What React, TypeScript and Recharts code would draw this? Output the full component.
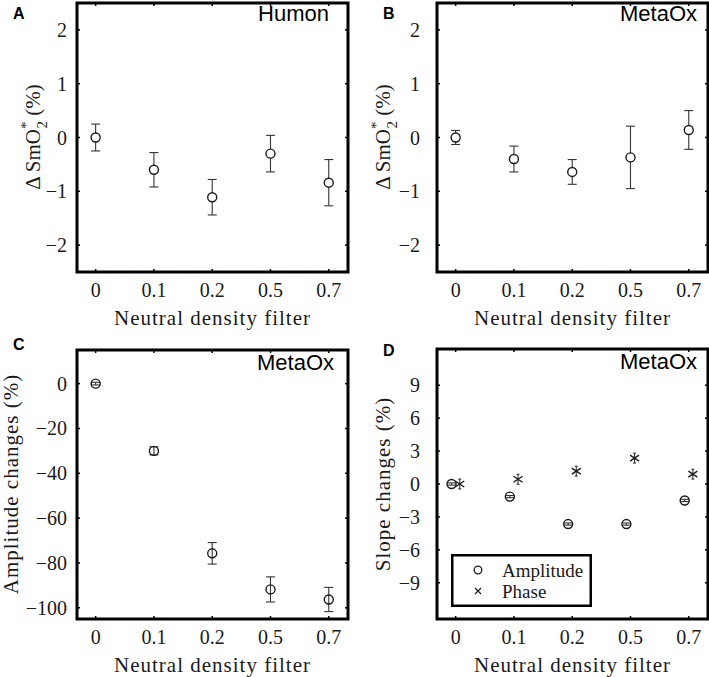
import { ScatterChart, Scatter, XAxis, YAxis, ErrorBar, ReferenceArea, Legend } from 'recharts'
import type { ReactNode } from 'react'

// ND filter levels, plotted at positions 1..5
const filters = ['0', '0.1', '0.2', '0.5', '0.7']

// A: Humon ΔSmO2*
const humonMean = [0, -0.6, -1.11, -0.3, -0.84]
const humonErr = [0.25, 0.32, 0.33, 0.34, 0.43]

// B: MetaOx ΔSmO2*
const metaoxMean = [0, -0.4, -0.64, -0.37, 0.14]
const metaoxErr = [0.13, 0.24, 0.23, 0.58, 0.36]

// C: MetaOx amplitude changes
const ampMean = [0, -30, -75.7, -91.8, -96.3]
const ampErr = [0.6, 1.8, 4.8, 5.6, 5.4]

// D: MetaOx slope changes
const slopeAmp = [0, -1.15, -3.65, -3.65, -1.5]
const slopeAmpErr = [0.1, 0.1, 0.1, 0.1, 0.1]
const slopePhase = [0, 0.43, 1.17, 2.36, 0.9]
const slopePhaseErr = [0.45, 0.45, 0.45, 0.45, 0.45]

const smallTicks = [-2, -1, 0, 1, 2]
const ampTicks = [-100, -80, -60, -40, -20, 0]
const slopeTicks = [-9, -6, -3, 0, 3, 6, 9]

const SERIF = '"Liberation Serif", "Times New Roman", serif'
const SANS = '"Liberation Sans", Arial, sans-serif'
const INK = '#1a1a1a'
const X_DOMAIN: [number, number] = [0.68, 5.33]
const YAW = 60
const XAH = 30

const toPoints = (ys: number[], errs: number[], shift = 0) =>
  ys.map((y, i) => ({ x: i + 1 + shift, y, err: errs[i] }))

const fmtY = (v: number) => (v < 0 ? `\u2212${Math.abs(v)}` : `${v}`)

const Circle = (fill: string) => (p: any) => (
  <circle cx={p.cx} cy={p.cy} r={4.5} fill={fill} stroke={INK} strokeWidth={1.4} />
)
const Cross = (p: any) => (
  <path d={`M${p.cx - 4.5},${p.cy - 3}L${p.cx + 4.5},${p.cy + 3}M${p.cx - 4.5},${p.cy + 3}L${p.cx + 4.5},${p.cy - 3}`} stroke={INK} strokeWidth={1.4} />
)

interface Series {
  name: string
  data: { x: number; y: number; err: number }[]
  shape: (p: any) => ReactNode
  cap: number
}

interface PanelProps {
  left: number
  top: number
  width: number
  height: number
  box: { l: number; t: number; r: number; b: number }
  yDomain: [number, number]
  yTicks: number[]
  yGap: number
  yLabel: ReactNode
  tag: string
  tagX: number
  tagY: number
  title: string
  titleX: number
  titleY: number
  series: Series[]
  legend?: boolean
}

function Panel(props: PanelProps) {
  const { box, width, height } = props
  const plotW = box.r - box.l
  const plotH = box.b - box.t

  const xTick = (p: any) => (
    <g>
      <line x1={p.x} x2={p.x} y1={p.y} y2={p.y - 3} stroke="#000" strokeWidth={1.5} />
      <line x1={p.x} x2={p.x} y1={p.y - plotH} y2={p.y - plotH + 3} stroke="#000" strokeWidth={1.5} />
      <text x={p.x} y={p.y + 25} textAnchor="middle" fontFamily={SERIF} fontSize={20} fill={INK}>
        {filters[p.payload.value - 1]}
      </text>
    </g>
  )
  const yTick = (p: any) => (
    <g>
      <line x1={p.x} x2={p.x + 3} y1={p.y} y2={p.y} stroke="#000" strokeWidth={1.5} />
      <line x1={p.x + plotW - 3} x2={p.x + plotW} y1={p.y} y2={p.y} stroke="#000" strokeWidth={1.5} />
      <text x={p.x - props.yGap} y={p.y + 7} textAnchor="end" fontFamily={SERIF} fontSize={20} fill={INK}>
        {fmtY(p.payload.value)}
      </text>
    </g>
  )

  return (
    <div style={{ position: 'absolute', left: props.left, top: props.top }}>
      <ScatterChart
        width={width}
        height={height}
        margin={{ top: box.t, right: width - box.r, bottom: height - box.b - XAH, left: box.l - YAW }}
      >
        <XAxis type="number" dataKey="x" domain={X_DOMAIN} ticks={[1, 2, 3, 4, 5]} allowDataOverflow
          height={XAH} axisLine={false} tickLine={false} tickSize={0} tickMargin={0} tick={xTick} />
        <YAxis type="number" dataKey="y" domain={props.yDomain} ticks={props.yTicks} allowDataOverflow
          width={YAW} axisLine={false} tickLine={false} tickSize={0} tickMargin={0} tick={yTick} />
        <ReferenceArea x1={X_DOMAIN[0]} x2={X_DOMAIN[1]} y1={props.yDomain[0]} y2={props.yDomain[1]}
          fill="none" fillOpacity={0} stroke="#000" strokeWidth={3} ifOverflow="visible" />
        {props.series.map((s) => (
          <Scatter key={s.name} name={s.name} data={s.data} shape={s.shape} isAnimationActive={false}>
            <ErrorBar dataKey="err" direction="y" width={s.cap} stroke="#333" strokeWidth={1.1} />
          </Scatter>
        ))}
        {props.legend && (
          <Legend layout="vertical" align="center" verticalAlign="middle"
            wrapperStyle={{ position: 'absolute', left: 97, top: box.t + 205, width: 141, height: 53 }}
            content={() => <SlopeLegend names={props.series.map((s) => s.name)} />} />
        )}
        <text x={box.l + plotW / 2} y={box.b + 53} textAnchor="middle" fontFamily={SERIF} fontSize={21}
          letterSpacing={1} fill={INK}>Neutral density filter</text>
        {props.yLabel}
        <text x={props.titleX} y={props.titleY} textAnchor="end"
          fontFamily={SANS} fontSize={22} fill="#000">{props.title}</text>
        <text x={props.tagX} y={props.tagY} fontFamily={SANS} fontWeight="bold" fontSize={16} fill="#000">{props.tag}</text>
      </ScatterChart>
    </div>
  )
}

function SlopeLegend({ names }: { names: string[] }) {
  return (
    <svg width={141} height={53} style={{ display: 'block' }}>
      <rect x={1.25} y={1.25} width={138.5} height={50.5} fill="#fff" stroke="#000" strokeWidth={2.5} />
      <circle cx={27} cy={16} r={3.8} fill="none" stroke={INK} strokeWidth={1.3} />
      <path d="M24,34L30,40M24,40L30,34" stroke={INK} strokeWidth={1.2} />
      <text x={51} y={23} fontFamily={SERIF} fontSize={19} fill={INK}>{names[0]}</text>
      <text x={51} y={44} fontFamily={SERIF} fontSize={19} fill={INK}>{names[1]}</text>
    </svg>
  )
}

const smo2Label = (x: number, cy: number) => (
  <text transform={`translate(${x},${cy}) rotate(-90)`} textAnchor="middle" fontFamily={SERIF} fontSize={21} fill={INK}>
    {'\u0394 SmO'}
    <tspan dy={-9} fontSize={15}>*</tspan>
    <tspan dx={-7} dy={16} fontSize={15}>2</tspan>
    <tspan dy={-7}>{' (%)'}</tspan>
  </text>
)

const plainLabel = (x: number, cy: number, label: string) => (
  <text transform={`translate(${x},${cy}) rotate(-90)`} textAnchor="middle" fontFamily={SERIF} fontSize={21}
    letterSpacing={1} fill={INK}>{label}</text>
)

export default function App() {
  return (
    <div style={{ position: 'absolute', left: 0, top: 0, width: 709, height: 677, background: '#fff' }}>
      <Panel left={0} top={0} width={354} height={330} box={{ l: 77, t: 3, r: 348, b: 272 }}
        yDomain={[-2.5, 2.5]} yTicks={smallTicks} yGap={10} yLabel={smo2Label(40, 137)}
        tag="A" tagX={13} tagY={19} title="Humon" titleX={329} titleY={21}
        series={[{ name: 'Humon', data: toPoints(humonMean, humonErr), shape: Circle('#fff'), cap: 4.5 }]} />
      <Panel left={354} top={0} width={355} height={330} box={{ l: 83, t: 3, r: 354, b: 272 }}
        yDomain={[-2.5, 2.5]} yTicks={smallTicks} yGap={17} yLabel={smo2Label(36, 137)}
        tag="B" tagX={29} tagY={19} title="MetaOx" titleX={343} titleY={21}
        series={[{ name: 'MetaOx', data: toPoints(metaoxMean, metaoxErr), shape: Circle('#fff'), cap: 4.5 }]} />
      <Panel left={0} top={330} width={354} height={347} box={{ l: 77, t: 20, r: 348, b: 289 }}
        yDomain={[-105, 15]} yTicks={ampTicks} yGap={10} yLabel={plainLabel(18, 154, 'Amplitude changes (%)')}
        tag="C" tagX={13} tagY={20} title="MetaOx" titleX={334} titleY={40}
        series={[{ name: 'Amplitude', data: toPoints(ampMean, ampErr), shape: Circle('none'), cap: 4.5 }]} />
      <Panel left={354} top={330} width={355} height={347} box={{ l: 83, t: 19, r: 354, b: 289 }}
        yDomain={[-12.3, 12.3]} yTicks={slopeTicks} yGap={17} yLabel={plainLabel(36, 154, 'Slope changes (%)')}
        tag="D" tagX={29} tagY={26} title="MetaOx" titleX={343} titleY={39} legend
        series={[
          { name: 'Amplitude', data: toPoints(slopeAmp, slopeAmpErr, -0.07), shape: Circle('none'), cap: 4.5 },
          { name: 'Phase', data: toPoints(slopePhase, slopePhaseErr, 0.07), shape: Cross, cap: 1.5 },
        ]} />
    </div>
  )
}
